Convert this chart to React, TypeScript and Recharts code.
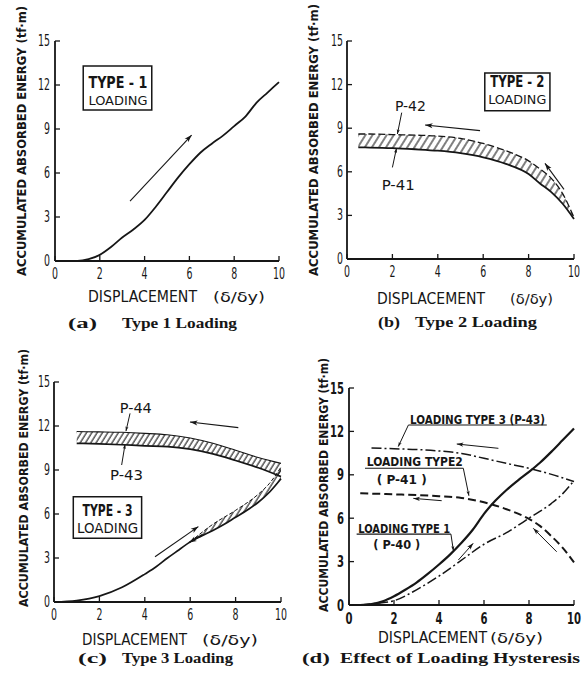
import React from "react";
import {
  ComposedChart, Line, Area, XAxis, YAxis,
  ReferenceLine, ReferenceDot, ReferenceArea,
} from "recharts";

// ── axis ticks ───────────────────────────────────────────────
const X_TICKS = [0, 2, 4, 6, 8, 10];
const Y_TICKS = [0, 3, 6, 9, 12, 15];

// ── (a) type 1 loading ───────────────────────────────────────
const A_X = [0.4, 1, 1.5, 2, 2.5, 3, 3.5, 4, 4.5, 5, 5.5, 6, 6.5, 7, 7.5, 8, 8.5, 9, 9.5, 10];
const A_Y = [0, 0, 0.12, 0.42, 0.95, 1.6, 2.15, 2.8, 3.7, 4.7, 5.7, 6.6, 7.4, 8.0, 8.55, 9.2, 9.85, 10.8, 11.5, 12.2];

// ── (b) type 2 loading (band between P-41 and P-42) ──────────
const B_X = [0.5, 1, 2, 3, 4, 5, 6, 7, 8, 8.5, 9, 9.5, 10];
const B_P42 = [8.6, 8.6, 8.56, 8.52, 8.46, 8.3, 7.95, 7.45, 6.75, 6.2, 5.55, 4.5, 2.85];
const B_P41 = [7.68, 7.67, 7.63, 7.55, 7.45, 7.28, 7.0, 6.55, 5.85, 5.2, 4.6, 3.8, 2.75];

// ── (c) type 3 loading ───────────────────────────────────────
const C_LD_X = [0, 1, 2, 3, 4, 4.5, 5, 5.5, 6, 6.5, 7, 7.5, 8, 8.5, 9, 9.5, 10];
const C_LD_Y = [0, 0.1, 0.4, 1.0, 1.9, 2.4, 3.0, 3.55, 4.1, 4.5, 4.88, 5.3, 5.78, 6.25, 6.8, 7.5, 8.4];
const C_LB_X = [6, 7, 8, 9, 9.5, 10];
const C_LB_LOW = [4.1, 4.88, 5.78, 6.8, 7.5, 8.4];
const C_LB_HIGH = [4.1, 5.3, 6.25, 7.35, 8.1, 9.2];
const C_UN_X = [1, 2, 3, 4, 5, 6, 7, 8, 9, 10];
const C_P44 = [11.62, 11.6, 11.57, 11.5, 11.4, 11.18, 10.82, 10.35, 9.85, 9.45];
const C_P43 = [10.82, 10.78, 10.72, 10.65, 10.6, 10.42, 10.1, 9.65, 9.15, 8.55];

// ── (d) effect of loading hysteresis ─────────────────────────
const D1_X = [0.5, 1, 1.5, 2, 2.5, 3, 3.5, 4, 4.5, 5, 5.5, 6, 6.5, 7, 7.5, 8, 8.5, 9, 9.5, 10];
const D1_Y = [0, 0.07, 0.25, 0.6, 1.05, 1.55, 2.15, 2.8, 3.5, 4.3, 5.2, 6.3, 7.2, 7.95, 8.6, 9.2, 9.85, 10.6, 11.4, 12.2];
const D2_X = [0.5, 1, 2, 3, 4, 5, 6, 7, 8, 8.5, 9, 9.5, 10];
const D2_Y = [7.72, 7.7, 7.65, 7.6, 7.52, 7.4, 7.1, 6.62, 5.95, 5.45, 4.75, 3.95, 2.95];
const D3U_X = [1, 2, 3, 4, 5, 6, 7, 8, 9, 10];
const D3U_Y = [10.85, 10.8, 10.75, 10.65, 10.48, 10.14, 9.79, 9.45, 9.03, 8.53];
const D3L_X = [0.5, 1, 2, 3, 4, 5, 6, 7, 8, 9, 9.5, 10];
const D3L_Y = [0, 0.08, 0.3, 1.05, 2.0, 3.1, 4.2, 5.0, 6.0, 7.03, 7.7, 8.6];

const pts = (xs: number[], ys: number[]) => xs.map((x, i) => ({ x, y: ys[i] }));
const band = (xs: number[], lo: number[], hi: number[]) =>
  xs.map((x, i) => ({ x, y: [lo[i], hi[i]] }));

const INK = "#161616";
const SANS = '"Liberation Sans Narrow", "DejaVu Sans Condensed", "Liberation Sans", sans-serif';
const SERIF = '"Liberation Serif", "DejaVu Serif", serif';

// ── small drawing helpers ────────────────────────────────────
const arrow = (head = 7, w = 1.1) => (p: any) => {
  const { x1, y1, x2, y2 } = p;
  const a = Math.atan2(y2 - y1, x2 - x1);
  const s = 0.32;
  const pa = `${x2},${y2} ${x2 - head * Math.cos(a - s)},${y2 - head * Math.sin(a - s)} ${x2 - head * 0.7 * Math.cos(a)},${y2 - head * 0.7 * Math.sin(a)} ${x2 - head * Math.cos(a + s)},${y2 - head * Math.sin(a + s)}`;
  return (
    <g>
      <line x1={x1} y1={y1} x2={x2} y2={y2} stroke={INK} strokeWidth={w} />
      <polygon points={pa} fill={INK} />
    </g>
  );
};

const plain = (w = 1.1) => (p: any) => (
  <line x1={p.x1} y1={p.y1} x2={p.x2} y2={p.y2} stroke={INK} strokeWidth={w} />
);

const note = (s: string, o: { size?: number; weight?: number; len?: number; anchor?: string } = {}) => (p: any) => (
  <text
    x={p.cx} y={p.cy} fill={INK} fontFamily={SANS} fontSize={o.size ?? 13} fontWeight={o.weight ?? 400}
    textAnchor={o.anchor ?? "start"} dominantBaseline="central"
    textLength={o.len} lengthAdjust="spacingAndGlyphs"
  >{s}</text>
);

type Cfg = {
  left: number; top: number; w: number; h: number;
  margin: { top: number; right: number; bottom: number; left: number };
  yw: number; xh: number; ytm: number; bold?: boolean;
  yt: [number, number, number, number];
  disp: [number, number]; sym: [number, number]; dy: number;
  cap: string; capX: [number, number]; capText: string; capTX: [number, number]; capY: number;
};

// narrow tick digits, as in the printed figure
const xTick = (c: Cfg) => (p: any) => {
  const s = String(p.payload.value);
  return (
    <text x={p.x} y={p.y + 8} textAnchor="middle" dominantBaseline="central" fill={INK} fontFamily={SANS}
      fontSize={c.bold ? 16 : 15} fontWeight={c.bold ? 700 : 400}
      textLength={s.length * (c.bold ? 7 : 6)} lengthAdjust="spacingAndGlyphs">{s}</text>
  );
};
const yTick = (c: Cfg) => (p: any) => {
  const s = String(p.payload.value);
  return (
    <text x={p.x} y={p.y} textAnchor="end" dominantBaseline="central" fill={INK} fontFamily={SANS}
      fontSize={c.bold ? 16 : 15} fontWeight={c.bold ? 700 : 400}
      textLength={s.length * (c.bold ? 7 : 6)} lengthAdjust="spacingAndGlyphs">{s}</text>
  );
};

const yTitle = (c: Cfg) => () => {
  const [cx, cy, len, size] = c.yt;
  return (
    <text
      x={cx} y={cy} transform={`rotate(-90 ${cx} ${cy})`} textAnchor="middle" dominantBaseline="central"
      fontFamily={SANS} fontWeight={700} fontSize={size} fill={INK} textLength={len} lengthAdjust="spacingAndGlyphs"
    >ACCUMULATED ABSORBED ENERGY (tf·m)</text>
  );
};

const xTitle = (c: Cfg) => () => (
  <g fill={INK}>
    <text x={c.disp[0]} y={c.dy} dominantBaseline="central" fontFamily={SANS} fontSize={15}
      textLength={c.disp[1] - c.disp[0]} lengthAdjust="spacingAndGlyphs">DISPLACEMENT</text>
    <text x={c.sym[0]} y={c.dy} dominantBaseline="central" fontFamily={SANS} fontSize={14}
      textLength={c.sym[1] - c.sym[0]} lengthAdjust="spacingAndGlyphs">(δ/δy)</text>
    <text x={c.capX[0]} y={c.capY} dominantBaseline="central" fontFamily={SERIF} fontWeight={700} fontSize={15}
      textLength={c.capX[1] - c.capX[0]} lengthAdjust="spacingAndGlyphs">{c.cap}</text>
    <text x={c.capTX[0]} y={c.capY} dominantBaseline="central" fontFamily={SERIF} fontWeight={700} fontSize={15}
      textLength={c.capTX[1] - c.capTX[0]} lengthAdjust="spacingAndGlyphs">{c.capText}</text>
  </g>
);

const axes = (c: Cfg) => {
  const line = { stroke: INK, strokeWidth: 1.8 };
  const tl = { stroke: INK, strokeWidth: 1.3 };
  return [
    <XAxis key="xb" type="number" dataKey="x" domain={[0, 10]} ticks={X_TICKS} interval={0} height={c.xh}
      axisLine={line} tickLine={tl} tickSize={-5} tickMargin={10} tick={xTick(c)} label={xTitle(c)} />,
    <XAxis key="xt" xAxisId="top" orientation="top" type="number" dataKey="x" domain={[0, 10]} ticks={X_TICKS}
      interval={0} height={0} axisLine={line} tickLine={tl} tickSize={-5} tick={false} />,
    <YAxis key="yl" type="number" domain={[0, 15]} ticks={Y_TICKS} interval={0} width={c.yw}
      axisLine={line} tickLine={tl} tickSize={-5} tickMargin={c.ytm} tick={yTick(c)} label={yTitle(c)} />,
    <YAxis key="yr" yAxisId="right" orientation="right" type="number" domain={[0, 15]} ticks={Y_TICKS}
      interval={0} width={0} axisLine={line} tickLine={tl} tickSize={-5} tick={false} />,
  ];
};

const hatch = (id: string, gap: number) => (
  <defs>
    <pattern id={id} patternUnits="userSpaceOnUse" width={gap} height={gap} patternTransform="rotate(32)">
      <line x1={1} y1={0} x2={1} y2={gap} stroke={INK} strokeWidth={1.1} />
    </pattern>
  </defs>
);

const A_CFG: Cfg = {
  left: 0, top: 0, w: 293, h: 340, margin: { top: 41, right: 14, bottom: 0, left: 0 }, yw: 55, xh: 79, ytm: 10,
  yt: [21, 141, 270, 13], disp: [88, 197], sym: [213, 265], dy: 297,
  cap: "(a)", capX: [68, 97], capText: "Type 1  Loading", capTX: [122, 237], capY: 323,
};
const B_CFG: Cfg = {
  left: 293, top: 0, w: 294, h: 340, margin: { top: 41, right: 13, bottom: 0, left: 0 }, yw: 54, xh: 81, ytm: 9,
  yt: [20, 140, 272, 13], disp: [84, 192], sym: [217, 260], dy: 299,
  cap: "(b)", capX: [85, 107], capText: "Type 2  Loading", capTX: [122, 244], capY: 322,
};
const C_CFG: Cfg = {
  left: 0, top: 340, w: 293, h: 338, margin: { top: 42, right: 12, bottom: 0, left: 0 }, yw: 54, xh: 76, ytm: 9,
  yt: [23, 138, 258, 12.5], disp: [82, 187], sym: [202, 258], dy: 300,
  cap: "(c)", capX: [78, 107], capText: "Type 3  Loading", capTX: [122, 233], capY: 318,
};
const D_CFG: Cfg = {
  left: 293, top: 340, w: 294, h: 338, margin: { top: 48, right: 13, bottom: 0, left: 0 }, yw: 56, xh: 73, ytm: 10, bold: true,
  yt: [30, 145, 254, 12.5], disp: [85, 194], sym: [197, 250], dy: 298,
  cap: "(d)", capX: [9, 37], capText: "Effect of Loading Hysteresis", capTX: [47, 287], capY: 318,
};

const boxStyle = { fill: "#fff", fillOpacity: 1, stroke: INK, strokeWidth: 1.5 };

export default function App() {
  return (
    <div style={{ position: "absolute", left: 0, top: 0, width: 587, height: 678, background: "#fff" }}>
      {/* (a) */}
      <div style={{ position: "absolute", left: A_CFG.left, top: A_CFG.top }}>
        <ComposedChart width={A_CFG.w} height={A_CFG.h} margin={A_CFG.margin}>
          {axes(A_CFG)}
          <ReferenceArea x1={1.26} x2={4.32} y1={10.3} y2={13.3} {...boxStyle} />
          <ReferenceDot x={2.81} y={12.2} r={1} shape={note("TYPE - 1", { size: 16, weight: 700, anchor: "middle", len: 59 })} />
          <ReferenceDot x={2.81} y={10.97} r={1} shape={note("LOADING", { size: 13, anchor: "middle", len: 59 })} />
          <ReferenceLine segment={[{ x: 3.35, y: 4.09 }, { x: 6.1, y: 8.59 }]} shape={arrow(8, 1.1)} />
          <Line data={pts(A_X, A_Y)} dataKey="y" type="monotone" stroke={INK} strokeWidth={1.8} dot={false} isAnimationActive={false} />
        </ComposedChart>
      </div>

      {/* (b) */}
      <div style={{ position: "absolute", left: B_CFG.left, top: B_CFG.top }}>
        <ComposedChart width={B_CFG.w} height={B_CFG.h} margin={B_CFG.margin}>
          {hatch("hatchB", 6)}
          {axes(B_CFG)}
          <Area data={band(B_X, B_P41, B_P42)} dataKey="y" type="monotone" stroke="none" fill="url(#hatchB)" fillOpacity={1} isAnimationActive={false} />
          <Line data={pts(B_X, B_P42)} dataKey="y" type="monotone" stroke={INK} strokeWidth={1.3} strokeDasharray="7 3" dot={false} isAnimationActive={false} />
          <Line data={pts(B_X, B_P41)} dataKey="y" type="monotone" stroke={INK} strokeWidth={1.8} dot={false} isAnimationActive={false} />
          <ReferenceArea x1={6.07} x2={8.94} y1={10.2} y2={12.8} {...boxStyle} />
          <ReferenceDot x={7.5} y={12.2} r={1} shape={note("TYPE - 2", { size: 16, weight: 700, anchor: "middle", len: 54 })} />
          <ReferenceDot x={7.5} y={11.0} r={1} shape={note("LOADING", { size: 13, anchor: "middle", len: 58 })} />
          <ReferenceDot x={2.11} y={10.53} r={1} shape={note("P-42", { size: 14, len: 31 })} />
          <ReferenceDot x={1.53} y={5.09} r={1} shape={note("P-41", { size: 14, len: 33 })} />
          <ReferenceLine segment={[{ x: 2.41, y: 10.07 }, { x: 2.22, y: 8.6 }]} shape={arrow(5, 1)} />
          <ReferenceLine segment={[{ x: 2.0, y: 6.3 }, { x: 2.18, y: 7.62 }]} shape={arrow(5, 1)} />
          <ReferenceLine segment={[{ x: 5.86, y: 8.83 }, { x: 3.44, y: 9.22 }]} shape={arrow(8, 1.1)} />
          <ReferenceLine segment={[{ x: 9.56, y: 4.79 }, { x: 8.72, y: 6.58 }]} shape={arrow(8, 1.1)} />
        </ComposedChart>
      </div>

      {/* (c) */}
      <div style={{ position: "absolute", left: C_CFG.left, top: C_CFG.top }}>
        <ComposedChart width={C_CFG.w} height={C_CFG.h} margin={C_CFG.margin}>
          {hatch("hatchC", 4.5)}
          {axes(C_CFG)}
          <Area data={band(C_UN_X, C_P43, C_P44)} dataKey="y" type="monotone" stroke="none" fill="url(#hatchC)" fillOpacity={1} isAnimationActive={false} />
          <Area data={band(C_LB_X, C_LB_LOW, C_LB_HIGH)} dataKey="y" type="monotone" stroke="none" fill="url(#hatchC)" fillOpacity={1} isAnimationActive={false} />
          <Line data={pts(C_UN_X, C_P44)} dataKey="y" type="monotone" stroke={INK} strokeWidth={1.1} dot={false} isAnimationActive={false} />
          <Line data={pts(C_UN_X, C_P43)} dataKey="y" type="monotone" stroke={INK} strokeWidth={1.7} dot={false} isAnimationActive={false} />
          <Line data={pts(C_LB_X, C_LB_HIGH)} dataKey="y" type="monotone" stroke={INK} strokeWidth={1} strokeDasharray="4 2" dot={false} isAnimationActive={false} />
          <Line data={pts(C_LD_X, C_LD_Y)} dataKey="y" type="monotone" stroke={INK} strokeWidth={1.7} dot={false} isAnimationActive={false} />
          <ReferenceArea x1={0.85} x2={3.86} y1={4.34} y2={7.18} {...boxStyle} />
          <ReferenceDot x={2.36} y={6.27} r={1} shape={note("TYPE - 3", { size: 16, weight: 700, anchor: "middle", len: 50 })} />
          <ReferenceDot x={2.36} y={5.02} r={1} shape={note("LOADING", { size: 14, anchor: "middle", len: 61 })} />
          <ReferenceDot x={2.9} y={13.2} r={1} shape={note("P-44", { size: 14, len: 32 })} />
          <ReferenceDot x={2.47} y={8.66} r={1} shape={note("P-43", { size: 14, len: 33 })} />
          <ReferenceLine segment={[{ x: 3.35, y: 12.86 }, { x: 3.17, y: 11.65 }]} shape={arrow(5, 1)} />
          <ReferenceLine segment={[{ x: 2.98, y: 9.34 }, { x: 3.13, y: 10.75 }]} shape={arrow(5, 1)} />
          <ReferenceLine segment={[{ x: 8.12, y: 11.89 }, { x: 5.99, y: 12.27 }]} shape={arrow(8, 1.1)} />
          <ReferenceLine segment={[{ x: 4.45, y: 3.09 }, { x: 6.36, y: 5.14 }]} shape={arrow(8, 1.1)} />
          <ReferenceLine segment={[{ x: 6.55, y: 4.6 }, { x: 5.95, y: 4.05 }]} shape={arrow(8, 1.6)} />
        </ComposedChart>
      </div>

      {/* (d) */}
      <div style={{ position: "absolute", left: D_CFG.left, top: D_CFG.top }}>
        <ComposedChart width={D_CFG.w} height={D_CFG.h} margin={D_CFG.margin}>
          {axes(D_CFG)}
          <Line data={pts(D3U_X, D3U_Y)} dataKey="y" type="monotone" stroke={INK} strokeWidth={1.5} strokeDasharray="10 3 2 3" dot={false} isAnimationActive={false} />
          <Line data={pts(D3L_X, D3L_Y)} dataKey="y" type="monotone" stroke={INK} strokeWidth={1.5} strokeDasharray="10 3 2 3" dot={false} isAnimationActive={false} />
          <Line data={pts(D2_X, D2_Y)} dataKey="y" type="monotone" stroke={INK} strokeWidth={2} strokeDasharray="8 4" dot={false} isAnimationActive={false} />
          <Line data={pts(D1_X, D1_Y)} dataKey="y" type="monotone" stroke={INK} strokeWidth={2.2} dot={false} isAnimationActive={false} />
          <ReferenceDot x={2.71} y={12.83} r={1} shape={note("LOADING TYPE 3 (P-43)", { size: 13, weight: 700, len: 135 })} />
          <ReferenceLine segment={[{ x: 2.64, y: 12.44 }, { x: 8.79, y: 12.44 }]} shape={plain(1.1)} />
          <ReferenceLine segment={[{ x: 2.64, y: 12.44 }, { x: 2.19, y: 10.95 }]} shape={arrow(5, 1)} />
          <ReferenceDot x={0.79} y={9.9} r={1} shape={note("LOADING TYPE2", { size: 13, weight: 700, len: 96 })} />
          <ReferenceDot x={1.23} y={8.68} r={1} shape={note("( P-41 )", { size: 13, weight: 700, len: 50 })} />
          <ReferenceLine segment={[{ x: 0.71, y: 9.45 }, { x: 5.08, y: 9.45 }]} shape={plain(1.1)} />
          <ReferenceLine segment={[{ x: 5.08, y: 9.45 }, { x: 5.33, y: 7.55 }]} shape={arrow(5, 1)} />
          <ReferenceDot x={0.41} y={5.3} r={1} shape={note("LOADING TYPE 1", { size: 13, weight: 700, len: 92 })} />
          <ReferenceDot x={1.08} y={4.15} r={1} shape={note("( P-40 )", { size: 13, weight: 700, len: 47 })} />
          <ReferenceLine segment={[{ x: 0.34, y: 4.9 }, { x: 4.53, y: 4.9 }]} shape={plain(1.1)} />
          <ReferenceLine segment={[{ x: 4.53, y: 4.9 }, { x: 4.64, y: 3.75 }]} shape={arrow(5, 1)} />
          <ReferenceLine segment={[{ x: 6.64, y: 10.83 }, { x: 4.79, y: 11.13 }]} shape={arrow(7, 1)} />
          <ReferenceLine segment={[{ x: 4.12, y: 7.21 }, { x: 2.86, y: 7.37 }]} shape={arrow(7, 1)} />
          <ReferenceLine segment={[{ x: 9.23, y: 3.68 }, { x: 8.19, y: 5.3 }]} shape={arrow(7, 1)} />
          <ReferenceLine segment={[{ x: 4.86, y: 3.11 }, { x: 5.52, y: 4.26 }]} shape={arrow(7, 1)} />
        </ComposedChart>
      </div>
    </div>
  );
}
